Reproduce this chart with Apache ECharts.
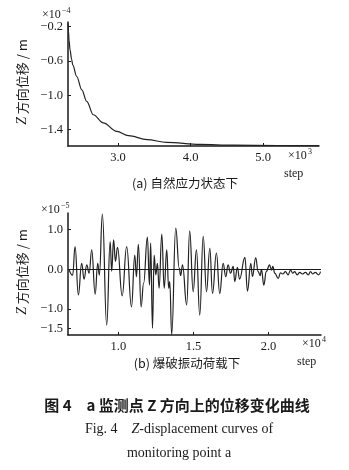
<!DOCTYPE html>
<html>
<head>
<meta charset="utf-8">
<script src="https://cdn.jsdelivr.net/npm/echarts@6/dist/echarts.min.js"></script>
<style>
  html, body { margin: 0; padding: 0; background: #fff; }
  #chart { width: 349px; height: 470px; }
</style>
</head>
<body>
<div id="chart"></div>
<script>
// (a) natural stress state: step (×10^3) vs Z displacement (×10^-4 m)
const stepA = [2.312, 2.316, 2.325, 2.338, 2.36, 2.375, 2.43, 2.5, 2.568, 2.66, 2.797, 2.982, 3.142, 3.4, 3.67, 4.13, 4.59, 5.2, 5.77];
const dispA = [-0.16, -0.25, -0.36, -0.47, -0.58, -0.645, -0.78, -0.935, -1.07, -1.226, -1.32, -1.42, -1.47, -1.515, -1.548, -1.572, -1.58, -1.584, -1.586];

// (b) blasting vibration load: step (×10^4) vs Z displacement (×10^-5 m)
const stepB = [0.67, 0.695, 0.711, 0.733, 0.755, 0.771, 0.789, 0.805, 0.822, 0.845, 0.862, 0.873, 0.893, 0.922, 0.945, 0.955, 0.968, 0.98, 0.994, 1.025, 1.055, 1.087, 1.109, 1.12, 1.133, 1.151, 1.168, 1.193, 1.207, 1.215, 1.227, 1.238, 1.249, 1.26, 1.271, 1.289, 1.305, 1.322, 1.335, 1.342, 1.355, 1.382, 1.405, 1.415, 1.427, 1.455, 1.475, 1.498, 1.52, 1.542, 1.565, 1.587, 1.609, 1.627, 1.653, 1.675, 1.698, 1.715, 1.731, 1.747, 1.765, 1.775, 1.793, 1.807, 1.843, 1.86, 1.882, 1.893, 1.915, 1.931, 1.945, 1.953, 1.969, 1.985, 2.007, 2.02, 2.029, 2.042, 2.065, 2.08, 2.095, 2.113, 2.131, 2.147, 2.162, 2.175, 2.191, 2.209, 2.225, 2.247, 2.265, 2.28, 2.295, 2.311, 2.335, 2.347];
const dispB = [0.0, -0.15, 0.57, -0.65, 0.15, -0.25, 0.11, -0.1, 0.49, -0.63, 0.15, -0.15, 1.39, -1.41, 0.70, -0.05, 0.74, 0.2, 0.55, -0.67, 0.57, -0.95, 0.36, -0.19, 0.63, -0.95, -0.35, 0.81, -0.4, 0.66, -1.49, 0.36, -0.14, 0.15, -0.48, 0.89, -0.48, 0.49, -0.48, -0.31, -1.65, 1.04, 0.03, -0.16, 0.11, -0.9, 0.97, -0.57, 0.49, -1.16, 0.83, -0.57, 0.53, -0.61, 0.41, -0.61, 0.15, -0.19, 0.11, -0.1, 0.07, -0.31, 0.05, -0.25, 0.3, -0.55, 0.15, -0.18, 0.29, -0.06, -0.16, 0.0, -0.4, -0.06, 0.11, -0.02, 0.07, -0.1, -0.23, -0.09, -0.12, -0.06, -0.14, -0.02, -0.1, -0.06, -0.14, -0.08, -0.12, -0.08, -0.14, -0.06, -0.12, -0.08, -0.14, -0.06];

// tick labels
const ticksAX = [3.0, 4.0, 5.0];
const ticksAY = [-0.2, -0.6, -1.0, -1.4];
const ticksBX = [1.0, 1.5, 2.0];
const ticksBY = [1.0, 0.0, -1.0, -1.5];

const SERIF = '"Liberation Serif", "DejaVu Serif", serif';
const CJK = '"Noto Sans CJK SC", sans-serif';
const INK = '#1a1a1a';

const fmt1 = v => (v < 0 ? '\u2212' : '') + Math.abs(v).toFixed(1);

function axisCfg(gridIndex, min, max, ticks) {
  return {
    type: 'value', gridIndex, min, max,
    axisLine: { show: true, onZero: false, lineStyle: { color: INK, width: 1.5 } },
    axisTick: { show: true, inside: true, length: 3, customValues: ticks, lineStyle: { color: INK } },
    axisLabel: { customValues: ticks, formatter: fmt1, color: INK, fontFamily: SERIF, fontSize: 12.5, margin: 5 },
    splitLine: { show: false }
  };
}

function txt(x, y, text, font, extra) {
  return {
    type: 'text', x, y,
    style: Object.assign({ text, fill: INK, font, textAlign: 'left', textVerticalAlign: 'middle' }, extra || {})
  };
}
function yTitle(cx, cy) {
  return {
    type: 'text', x: cx, y: cy, rotation: Math.PI / 2,
    style: {
      text: '{z|Z} 方向位移 / m', fill: INK, font: '13px ' + CJK,
      textAlign: 'center', textVerticalAlign: 'middle',
      rich: { z: { fontStyle: 'italic', fontFamily: SERIF, fontSize: 14, fill: INK } }
    }
  };
}

const chart = echarts.init(document.getElementById('chart'), null, { renderer: 'canvas' });

chart.setOption({
  animation: false,
  backgroundColor: '#fff',
  grid: [
    { left: 68, top: 22, width: 251, height: 124 },
    { left: 68, top: 213, width: 253, height: 122 }
  ],
  xAxis: [
    axisCfg(0, 2.31, 5.77, ticksAX),
    axisCfg(1, 0.664, 2.35, ticksBX)
  ],
  yAxis: [
    axisCfg(0, -1.59, -0.145, ticksAY),
    axisCfg(1, -1.66, 1.42, ticksBY)
  ],
  series: [
    {
      type: 'line', xAxisIndex: 0, yAxisIndex: 0,
      data: stepA.map((s, i) => [s, dispA[i]]),
      showSymbol: false, smooth: 0.35, smoothMonotone: 'x',
      lineStyle: { color: '#222', width: 1.2 }
    },
    {
      type: 'line', xAxisIndex: 1, yAxisIndex: 1,
      data: stepB.map((s, i) => [s, dispB[i]]),
      showSymbol: false, smooth: 0.45, smoothMonotone: 'x',
      lineStyle: { color: '#222', width: 1.2 },
      markLine: {
        silent: true, symbol: 'none', label: { show: false },
        lineStyle: { color: INK, width: 1.2, type: 'solid' },
        data: [{ yAxis: 0 }]
      }
    }
  ],
  graphic: [
    // exponent markers
    txt(42, 15, '×10', '12px ' + SERIF),
    txt(62, 11, '−4', '8px ' + SERIF),
    txt(288, 156, '×10', '12px ' + SERIF),
    txt(308, 152, '3', '8px ' + SERIF),
    txt(41, 210, '×10', '12px ' + SERIF),
    txt(61, 206, '−5', '8px ' + SERIF),
    txt(302, 344, '×10', '12px ' + SERIF),
    txt(322, 340, '4', '8px ' + SERIF),
    // axis names
    txt(284, 174, 'step', '12px ' + SERIF),
    txt(297, 362, 'step', '12px ' + SERIF),
    yTitle(22, 82),
    yTitle(22, 272),
    // panel captions
    txt(185, 183, '(a) 自然应力状态下', '12.5px ' + CJK, { textAlign: 'center' }),
    txt(187, 363, '(b) 爆破振动荷载下', '12.5px ' + CJK, { textAlign: 'center' }),
    // figure caption
    txt(177, 405, '图 4　a 监测点 Z 方向上的位移变化曲线', 'bold 15px ' + CJK, { textAlign: 'center' }),
    {
      type: 'text', x: 179, y: 429,
      style: {
        text: 'Fig. 4    {i|Z}-displacement curves of', fill: INK, font: '14px ' + SERIF,
        textAlign: 'center', textVerticalAlign: 'middle',
        rich: { i: { fontStyle: 'italic', fontFamily: SERIF, fontSize: 14, fill: INK } }
      }
    },
    txt(179, 453, 'monitoring point a', '14px ' + SERIF, { textAlign: 'center' })
  ]
});
</script>
</body>
</html>
